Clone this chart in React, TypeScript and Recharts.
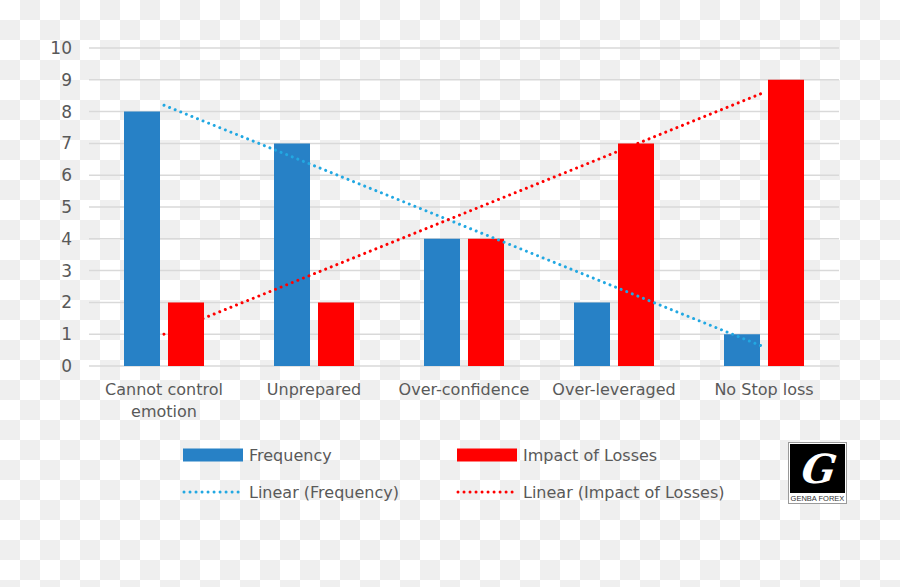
import React from "react";
import {
  ComposedChart,
  Bar,
  Line,
  XAxis,
  YAxis,
  CartesianGrid,
  Legend,
  Text,
} from "recharts";

const categories = [
  "Cannot control emotion",
  "Unprepared",
  "Over-confidence",
  "Over-leveraged",
  "No Stop loss",
];
const frequency = [8, 7, 4, 2, 1];
const impactOfLosses = [2, 2, 4, 7, 9];
// trendline values
const linearFrequency = [8.2, 6.3, 4.4, 2.5, 0.6];
const linearImpact = [1.0, 2.9, 4.8, 6.7, 8.6];
const yTicks = [0, 1, 2, 3, 4, 5, 6, 7, 8, 9, 10];

const data = categories.map((name, i) => ({
  name,
  frequency: frequency[i],
  impact: impactOfLosses[i],
  linFreq: linearFrequency[i],
  linImpact: linearImpact[i],
}));

const FONT = "'DejaVu Sans', sans-serif";
const TEXT = "#595959";
const BLUE = "#2781C6";
const RED = "#FF0000";
const TREND_BLUE = "#22A8E2";

function CategoryTick(props: any) {
  const { x, y, payload } = props;
  return (
    <Text
      x={x}
      y={y + 10}
      width={150}
      textAnchor="middle"
      verticalAnchor="start"
      fill={TEXT}
      fontSize={16}
      fontFamily={FONT}
      lineHeight={22}
    >
      {payload.value}
    </Text>
  );
}

function LegendItem({ kind, color, label, left, top }: any) {
  return (
    <div style={{ position: "absolute", left, top, height: 38, display: "flex", alignItems: "center" }}>
      <svg width={62} height={16} style={{ marginRight: 5 }}>
        {kind === "bar" ? (
          <rect x={1} y={1.5} width={60} height={13} fill={color} />
        ) : (
          <line x1={2} y1={8} x2={58} y2={8} stroke={color} strokeWidth={3}
            strokeDasharray="0.01 6" strokeLinecap="round" />
        )}
      </svg>
      <span style={{ fontFamily: FONT, fontSize: 16, color: TEXT, whiteSpace: "nowrap" }}>{label}</span>
    </div>
  );
}

function ChartLegend() {
  return (
    <div style={{ position: "relative", width: 900, height: 80 }}>
      <LegendItem kind="bar" color={BLUE} label="Frequency" left={182} top={0} />
      <LegendItem kind="bar" color={RED} label="Impact of Losses" left={456} top={0} />
      <LegendItem kind="line" color={TREND_BLUE} label="Linear (Frequency)" left={182} top={37} />
      <LegendItem kind="line" color={RED} label="Linear (Impact of Losses)" left={456} top={37} />
    </div>
  );
}

function Logo() {
  return (
    <div
      style={{
        position: "absolute",
        left: 788,
        top: 442,
        width: 59,
        height: 62,
        background: "#fff",
        border: "1px solid #9a9a9a",
        boxSizing: "border-box",
      }}
    >
      <svg width={57} height={60}>
        <rect x={1} y={1} width={55} height={49} fill="#000" />
        <text x={29} y={40} textAnchor="middle" fill="#fff" fontSize={40}
          fontStyle="italic" fontWeight="bold" fontFamily="'DejaVu Serif', serif"
          transform="skewX(-8) translate(5,0)">G</text>
        <text x={28.5} y={58} textAnchor="middle" fill="#333" fontSize={7.5}
          fontFamily="'Liberation Sans Narrow', 'Liberation Sans', sans-serif">GENBA FOREX</text>
      </svg>
    </div>
  );
}

export default function App() {
  return (
    <div
      style={{
        position: "absolute",
        left: 0,
        top: 0,
        width: 900,
        height: 587,
        backgroundColor: "#fff",
        backgroundImage:
          "conic-gradient(#efefef 25%, transparent 0 50%, #efefef 0 75%, transparent 0)",
        backgroundSize: "40px 40px",
      }}
    >
      <ComposedChart
        width={900}
        height={587}
        data={data}
        margin={{ top: 48, right: 61, bottom: 71, left: 0 }}
        barGap={8}
        barSize={36}
      >
        <CartesianGrid vertical={false} stroke="#d9d9d9" strokeWidth={1.5} />
        <XAxis
          dataKey="name"
          axisLine={false}
          tickLine={false}
          height={70}
          interval={0}
          tick={<CategoryTick />}
        />
        <YAxis
          width={89}
          domain={[0, 10]}
          ticks={yTicks}
          axisLine={false}
          tickLine={false}
          tickSize={6}
          tickMargin={11}
          tick={{ fill: TEXT, fontSize: 17, fontFamily: FONT }}
        />
        <Legend
          verticalAlign="bottom"
          width={900}
          height={80}
          wrapperStyle={{ left: 0 }}
          content={() => <ChartLegend />}
        />
        <Bar dataKey="frequency" name="Frequency" fill={BLUE} isAnimationActive={false} />
        <Bar dataKey="impact" name="Impact of Losses" fill={RED} isAnimationActive={false} />
        <Line
          dataKey="linFreq"
          name="Linear (Frequency)"
          stroke={TREND_BLUE}
          strokeWidth={3}
          strokeDasharray="0.01 6"
          strokeLinecap="round"
          dot={false}
          activeDot={false}
          isAnimationActive={false}
        />
        <Line
          dataKey="linImpact"
          name="Linear (Impact of Losses)"
          stroke={RED}
          strokeWidth={3}
          strokeDasharray="0.01 6"
          strokeLinecap="round"
          dot={false}
          activeDot={false}
          isAnimationActive={false}
        />
      </ComposedChart>
      <Logo />
    </div>
  );
}
